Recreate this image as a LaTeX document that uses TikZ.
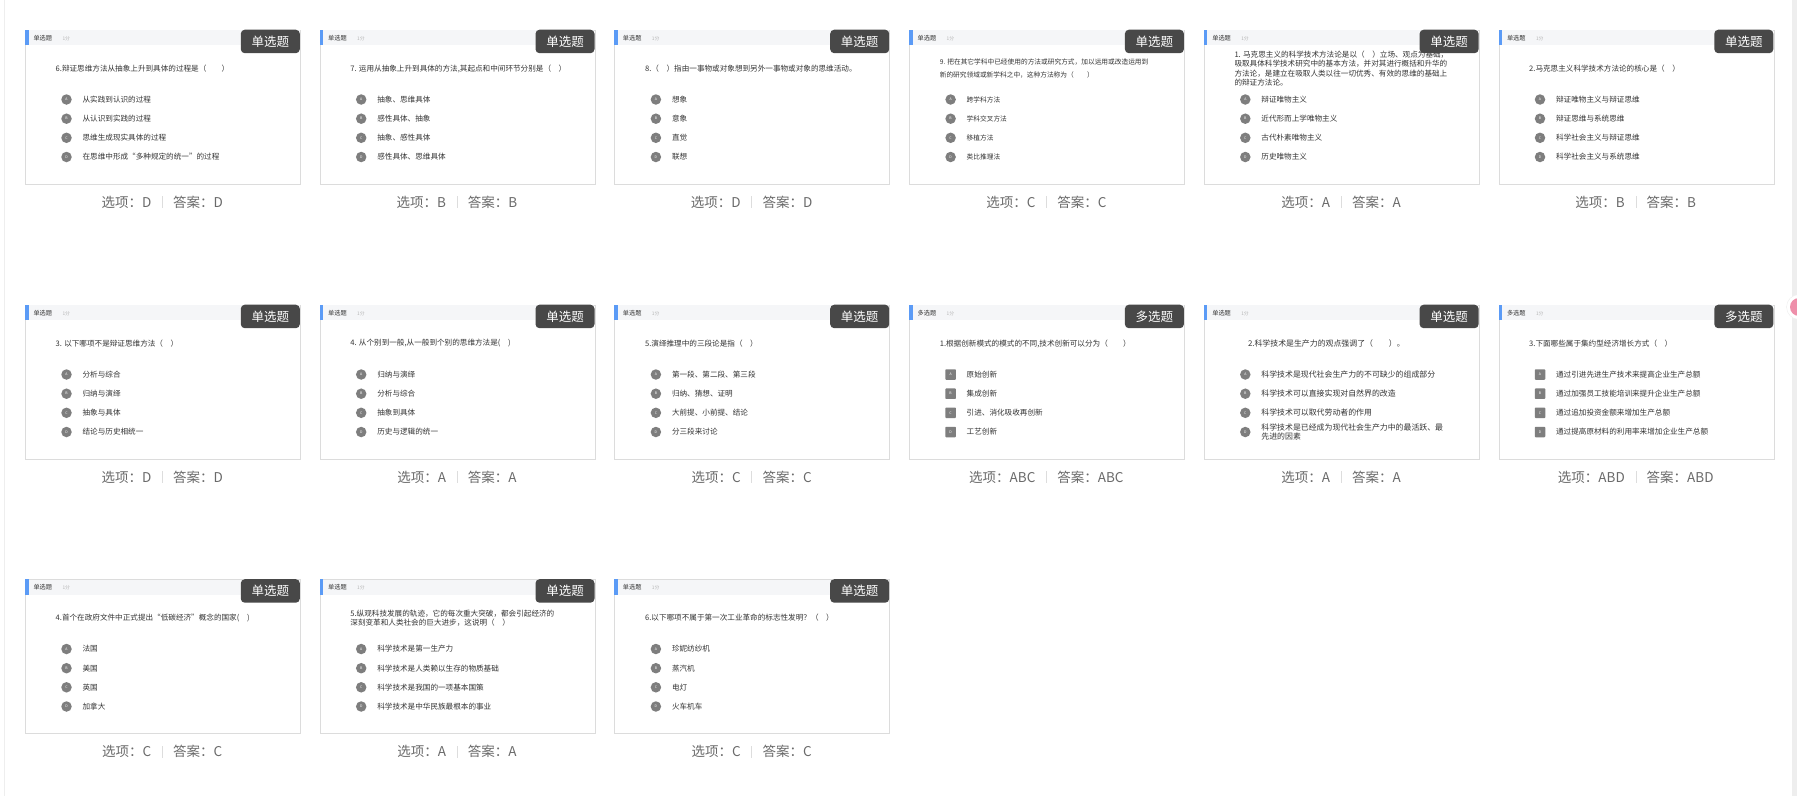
\documentclass[tikz,border=0pt]{standalone}
\usepackage{fontspec}
\setmainfont{Noto Sans CJK SC}
\definecolor{cardline}{HTML}{DCDCDC}
\definecolor{headfill}{HTML}{F5F6F8}
\definecolor{bluebar}{HTML}{5B9BF6}
\definecolor{badgefill}{HTML}{484848}
\definecolor{markgray}{HTML}{7E7E7E}
\definecolor{inktext}{HTML}{333333}
\definecolor{scoregray}{HTML}{B4B4B4}
\definecolor{footgray}{HTML}{6A6A6A}
\definecolor{sepgray}{HTML}{DDDDDD}
\definecolor{edgegray}{HTML}{EEEEEE}
\definecolor{pinkdot}{HTML}{EE8FAA}
\newcommand\kinddan{单选题}
\newcommand\kindduo{多选题}
\newcommand\qcard[9]{%
  \begin{scope}[shift={(#1)}]
    \node[card] (#1box) at (0,0) {};
    \fill[headfill] (0.5,0.5) rectangle (274.5,15.7);
    \fill[bluebar] (0,0) rectangle (3.5,15.7);
    \node[headlabel] (#1kind) at (8.3,8.5) {\csname kind#2\endcsname};
    \node[score] (#1pts) at (37.3,8.8) {1分};
    \node[qtext,#9] (#1q) at (30.5,39) {#3};
    \node[badge] (#1tag) at (275,0) {\csname kind#2\endcsname};
    \node[#2mark] (#1ma) at (41.5,70) {A};
    \node[otext,#9] (#1a) at (57.4,70) {#4};
    \node[#2mark] (#1mb) at (41.5,89.2) {B};
    \node[otext,#9] (#1b) at (57.4,89.2) {#5};
    \node[#2mark] (#1mc) at (41.5,108.3) {C};
    \node[otext,#9] (#1c) at (57.4,108.3) {#6};
    \node[#2mark] (#1md) at (41.5,127.5) {D};
    \node[otext,#9] (#1d) at (57.4,127.5) {#7};
    \node[sepbar] (#1sep) at (137.5,172.5) {};
    \node[foot,anchor=east] (#1opt) at (126.5,172.5) {选项：#8};
    \node[foot,anchor=west] (#1ans) at (148,172.5) {答案：#8};
  \end{scope}}

\begin{document}
\begin{tikzpicture}[x=1pt,y=-1pt,
  card/.style={draw=cardline,fill=white,line width=0.8pt,
    anchor=north west,inner sep=0pt,
    minimum width=275pt,minimum height=154pt},
  headlabel/.style={anchor=west,inner sep=0pt,text=inktext,
    font=\fontsize{6.2}{7}\selectfont},
  score/.style={anchor=west,inner sep=0pt,text=scoregray,
    font=\fontsize{4.8}{5}\selectfont},
  badge/.style={anchor=north east,fill=badgefill,rounded corners=4pt,
    minimum width=59pt,minimum height=23.5pt,inner sep=0pt,
    text=white,font=\fontsize{12.5}{13}\selectfont},
  qtext/.style={anchor=west,align=left,inner sep=0pt,text=inktext,
    font=\fontsize{7.6}{9.4}\selectfont},
  otext/.style={anchor=west,align=left,inner sep=0pt,text=inktext,
    font=\fontsize{7.6}{9.4}\selectfont},
  danmark/.style={circle,fill=markgray,minimum size=10.5pt,inner sep=0pt,
    text=white,font=\fontsize{3.5}{4}\selectfont},
  duomark/.style={rounded corners=0.8pt,fill=markgray,minimum size=10.5pt,
    inner sep=0pt,text=white,font=\fontsize{3.5}{4}\selectfont},
  sepbar/.style={fill=sepgray,minimum width=0.9pt,minimum height=12pt,
    inner sep=0pt},
  foot/.style={inner sep=0pt,text=footgray,
    font=\fontsize{13.5}{14}\selectfont}]
  \useasboundingbox (0,0) rectangle (1797,796);
  \fill[white] (0,0) rectangle (1797,796);
  \fill[edgegray] (3.5,0) rectangle (5,796);
  \fill[edgegray] (1792,0) rectangle (1797,796);

  \coordinate (q11) at (25,29.5);
  \coordinate (q12) at (319.7,29.5);
  \coordinate (q13) at (614.4,29.5);
  \coordinate (q14) at (909.1,29.5);
  \coordinate (q15) at (1203.8,29.5);
  \coordinate (q16) at (1498.5,29.5);
  \coordinate (q21) at (25,304.5);
  \coordinate (q22) at (319.7,304.5);
  \coordinate (q23) at (614.4,304.5);
  \coordinate (q24) at (909.1,304.5);
  \coordinate (q25) at (1203.8,304.5);
  \coordinate (q26) at (1498.5,304.5);
  \coordinate (q31) at (25,579);
  \coordinate (q32) at (319.7,579);
  \coordinate (q33) at (614.4,579);

  \qcard{q11}{dan}{6.辩证思维方法从抽象上升到具体的过程是（　　）}
    {从实践到认识的过程}{从认识到实践的过程}{思维生成现实具体的过程}
    {在思维中形成“多种规定的统一”的过程}{D}{}
  \qcard{q12}{dan}{7. 运用从抽象上升到具体的方法,其起点和中间环节分别是（　）}
    {抽象、思维具体}{感性具体、抽象}{抽象、感性具体}{感性具体、思维具体}{B}{}
  \qcard{q13}{dan}{8.（　）指由一事物或对象想到另外一事物或对象的思维活动。}
    {想象}{意象}{直觉}{联想}{D}{}
  \qcard{q14}{dan}{9. 把在其它学科中已经使用的方法或研究方式，加以运用或改造运用到\\新的研究领域或新学科之中，这种方法称为（　　）}
    {跨学科方法}{学科交叉方法}{移植方法}{类比推理法}{C}
    {font=\fontsize{6.7}{12.7}\selectfont}
  \qcard{q15}{dan}{1. 马克思主义的科学技术方法论是以（　）立场、观点为基础，\\吸取具体科学技术研究中的基本方法，并对其进行概括和升华的\\方法论，是建立在吸取人类以往一切优秀、有效的思维的基础上\\的辩证方法论。}
    {辩证唯物主义}{近代形而上学唯物主义}{古代朴素唯物主义}{历史唯物主义}{A}{}
  \qcard{q16}{dan}{2.马克思主义科学技术方法论的核心是（　）}
    {辩证唯物主义与辩证思维}{辩证思维与系统思维}{科学社会主义与辩证思维}
    {科学社会主义与系统思维}{B}{}

  \qcard{q21}{dan}{3. 以下哪项不是辩证思维方法（　）}
    {分析与综合}{归纳与演绎}{抽象与具体}{结论与历史相统一}{D}{}
  \qcard{q22}{dan}{4. 从个别到一般,从一般到个别的思维方法是(　)}
    {归纳与演绎}{分析与综合}{抽象到具体}{历史与逻辑的统一}{A}{}
  \qcard{q23}{dan}{5.演绎推理中的三段论是指（　）}
    {第一段、第二段、第三段}{归纳、猜想、证明}{大前提、小前提、结论}
    {分三段来讨论}{C}{}
  \qcard{q24}{duo}{1.根据创新模式的模式的不同,技术创新可以分为（　　）}
    {原始创新}{集成创新}{引进、消化吸收再创新}{工艺创新}{ABC}{}
  \qcard{q25}{dan}{\hspace*{13.5pt}2.科学技术是生产力的观点强调了（　　）。}
    {科学技术是现代社会生产力的不可缺少的组成部分}
    {科学技术可以直接实现对自然界的改造}{科学技术可以取代劳动者的作用}
    {科学技术是已经成为现代社会生产力中的最活跃、最\\先进的因素}{A}
    {font=\fontsize{7.9}{8.6}\selectfont}
  \qcard{q26}{duo}{3.下面哪些属于集约型经济增长方式（　）}
    {通过引进先进生产技术来提高企业生产总额}
    {通过加强员工技能培训来提升企业生产总额}
    {通过追加投资金额来增加生产总额}
    {通过提高原材料的利用率来增加企业生产总额}{ABD}{}

  \qcard{q31}{dan}{4.首个在政府文件中正式提出“低碳经济”概念的国家(　)}
    {法国}{美国}{英国}{加拿大}{C}{}
  \qcard{q32}{dan}{5.纵观科技发展的轨迹，它的每次重大突破，都会引起经济的\\深刻变革和人类社会的巨大进步，这说明（　）}
    {科学技术是第一生产力}{科学技术是人类赖以生存的物质基础}
    {科学技术是我国的一项基本国策}{科学技术是中华民族最根本的事业}{A}{}
  \qcard{q33}{dan}{6.以下哪项不属于第一次工业革命的标志性发明？（　）}
    {珍妮纺纱机}{蒸汽机}{电灯}{火车机车}{C}{}

  \node[circle,fill=white,draw=edgegray,minimum size=25pt] (halo) at (1799,307) {};
  \node[circle,fill=pinkdot,minimum size=18pt] (dot) at (halo) {};
\end{tikzpicture}
\end{document}
